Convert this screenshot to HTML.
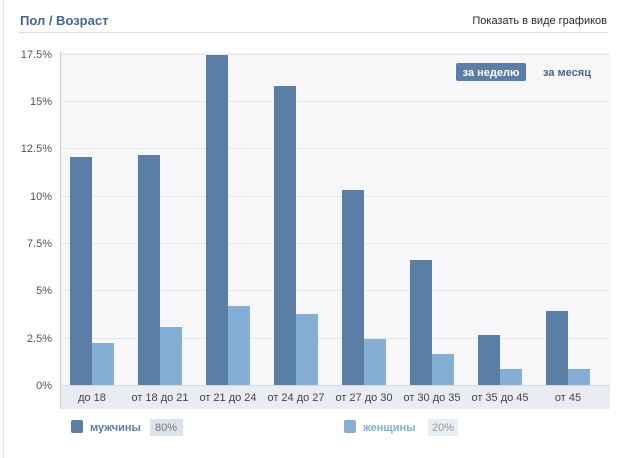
<!DOCTYPE html>
<html><head><meta charset="utf-8"><style>
body{margin:0;width:625px;height:458px;background:#fff;font-family:Tahoma,"Liberation Sans",sans-serif;overflow:hidden;position:relative}
.a{position:absolute}
</style></head><body>
<div class="a" style="left:3px;top:0;width:1px;height:458px;background:#e4e6e9"></div>
<div class="a" style="left:20px;top:13px;font-size:13px;font-weight:bold;color:#45688e">Пол / Возраст</div>
<div class="a" style="right:18px;top:15px;font-size:11px;color:#2b2b2b">Показать в виде графиков</div>
<div class="a" style="left:18px;top:32px;width:590px;height:1px;background:#dae1e8"></div>
<svg class="a" style="left:0;top:0" width="625" height="458" font-family="Tahoma, Liberation Sans, sans-serif">
<rect x="60" y="52" width="550" height="333" fill="#f7f7f9"/>
<rect x="60" y="385" width="550" height="24" fill="#e9edf1"/>
<g stroke="#e3e6ea" stroke-width="1">
<line x1="60" x2="610" y1="54.5" y2="54.5"/><line x1="60" x2="610" y1="101.5" y2="101.5"/>
<line x1="60" x2="610" y1="148.5" y2="148.5"/><line x1="60" x2="610" y1="196.5" y2="196.5"/>
<line x1="60" x2="610" y1="243.5" y2="243.5"/><line x1="60" x2="610" y1="290.5" y2="290.5"/>
<line x1="60" x2="610" y1="338.5" y2="338.5"/></g>
<line x1="60" x2="610" y1="385.5" y2="385.5" stroke="#d4d9df"/>
<line x1="60.5" x2="60.5" y1="52" y2="409" stroke="#c9cfd6"/>
<g font-size="11" fill="#555" text-anchor="end">
<text x="52" y="58">17.5%</text><text x="52" y="105">15%</text><text x="52" y="152">12.5%</text>
<text x="52" y="200">10%</text><text x="52" y="247">7.5%</text><text x="52" y="294">5%</text>
<text x="52" y="342">2.5%</text><text x="52" y="389">0%</text></g>
<g fill="#5b7ea6">
<rect x="70" y="157" width="22" height="228"/><rect x="138" y="155" width="22" height="230"/>
<rect x="206" y="55" width="22" height="330"/><rect x="274" y="86" width="22" height="299"/>
<rect x="342" y="190" width="22" height="195"/><rect x="410" y="260" width="22" height="125"/>
<rect x="478" y="335" width="22" height="50"/><rect x="546" y="311" width="22" height="74"/></g>
<g fill="#84aed4">
<rect x="92" y="343" width="22" height="42"/><rect x="160" y="327" width="22" height="58"/>
<rect x="228" y="306" width="22" height="79"/><rect x="296" y="314" width="22" height="71"/>
<rect x="364" y="339" width="22" height="46"/><rect x="432" y="354" width="22" height="31"/>
<rect x="500" y="369" width="22" height="16"/><rect x="568" y="369" width="22" height="16"/></g>
<g font-size="11" fill="#444" text-anchor="middle">
<text x="92" y="401">до 18</text><text x="160" y="401">от 18 до 21</text><text x="228" y="401">от 21 до 24</text>
<text x="296" y="401">от 24 до 27</text><text x="364" y="401">от 27 до 30</text><text x="432" y="401">от 30 до 35</text>
<text x="500" y="401">от 35 до 45</text><text x="568" y="401">от 45</text></g>
<rect x="456" y="63" width="70" height="18" rx="2" fill="#5b7ea6"/>
<text x="491" y="76" font-size="11" font-weight="bold" fill="#fff" text-anchor="middle">за неделю</text>
<text x="567" y="76" font-size="11" font-weight="bold" fill="#45688e" text-anchor="middle">за месяц</text>
<rect x="71" y="420" width="12" height="13" rx="2" fill="#5b7ea6"/>
<text x="90" y="431" font-size="11" font-weight="bold" fill="#5b7ea6">мужчины</text>
<rect x="150" y="419" width="33" height="17" fill="#dbe3ec"/>
<text x="155" y="431" font-size="11" fill="#777">80%</text>
<rect x="344" y="420" width="12" height="13" rx="2" fill="#84aed4"/>
<text x="363" y="431" font-size="11" font-weight="bold" fill="#84aed4">женщины</text>
<rect x="428" y="419" width="30" height="17" fill="#e6eef6"/>
<text x="432" y="431" font-size="11" fill="#999">20%</text>
</svg>
</body></html>
